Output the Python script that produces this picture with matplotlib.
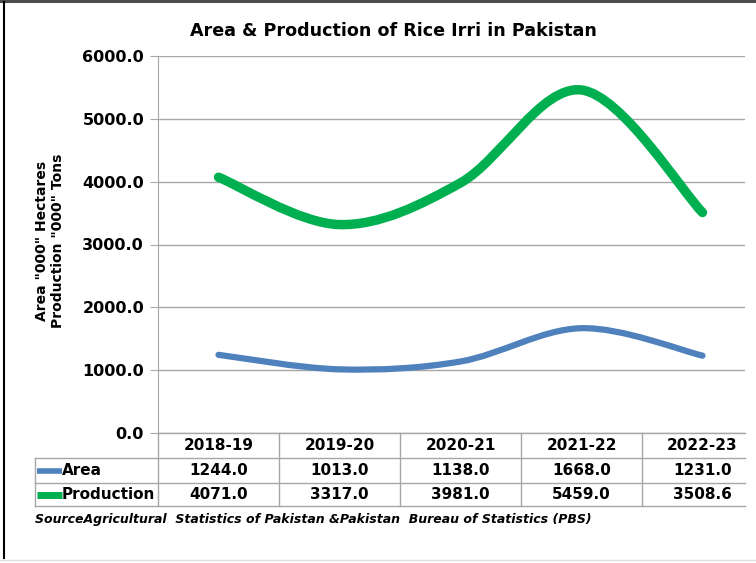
import numpy as np
import matplotlib
matplotlib.use('Agg')
import matplotlib.pyplot as plt
from matplotlib.path import Path
from matplotlib.patches import PathPatch

years = ['2018-19', '2019-20', '2020-21', '2021-22', '2022-23']
area = [1244.0, 1013.0, 1138.0, 1668.0, 1231.0]
production = [4071.0, 3317.0, 3981.0, 5459.0, 3508.6]
area_label = 'Area'
production_label = 'Production'
title = 'Area & Production of Rice Irri in Pakistan'
ylabel = 'Area "000" Hectares\nProduction "000" Tons'
source = 'SourceAgricultural  Statistics of Pakistan &Pakistan  Bureau of Statistics (PBS)'

blue = '#4F81BD'
green = '#00B050'
grid_grey = '#A6A6A6'

W, H = 756, 563
fig = plt.figure(figsize=(W / 100, H / 100), dpi=100)
plt.rcParams['font.family'] = ['DejaVu Sans']


def px(x, y):
    # pixel position (top-left origin) -> figure fraction
    return x / W, 1 - y / H


# plot area in pixels
left, right, top, bottom = 158, 745, 56, 433
ax = fig.add_axes([left / W, 1 - bottom / H, (right - left) / W, (bottom - top) / H])
col_w = 121.0
ax.set_xlim(-0.5, -0.5 + (right - left) / col_w)
ax.set_ylim(0, 6000)
ax.set_yticks(np.arange(0, 6001, 1000))
ax.set_yticklabels([f'{v:.1f}' for v in np.arange(0, 6001, 1000)],
                   fontsize=11.5, fontweight='bold')
ax.set_xticks([])
ax.tick_params(axis='y', length=6, color=grid_grey, pad=4)
for s in ['top', 'right', 'bottom']:
    ax.spines[s].set_visible(False)
ax.spines['left'].set_color(grid_grey)
ax.yaxis.grid(True, color=grid_grey, lw=1)
ax.set_axisbelow(True)


def smooth_path(xs, ys):
    # Excel-style smoothed line: cubic Bezier segments with Catmull-Rom control points
    pts = np.column_stack([xs, ys]).astype(float)
    ext = np.vstack([pts[0], pts, pts[-1]])
    verts = [pts[0]]
    codes = [Path.MOVETO]
    for i in range(len(pts) - 1):
        p0, p1, p2, p3 = ext[i], ext[i + 1], ext[i + 2], ext[i + 3]
        verts += [p1 + (p2 - p0) / 6, p2 - (p3 - p1) / 6, p2]
        codes += [Path.CURVE4] * 3
    return Path(verts, codes)


x = np.arange(len(years))
ax.add_patch(PathPatch(smooth_path(x, production), fill=False, edgecolor=green,
                       lw=6.8, capstyle='round', joinstyle='round'))
ax.add_patch(PathPatch(smooth_path(x, area), fill=False, edgecolor=blue,
                       lw=4.5, capstyle='round', joinstyle='round'))

# data table under the plot
tr = ax.get_xaxis_transform()
plot_h = bottom - top


def yf(py):
    return (bottom - py) / plot_h


rows = [433, 458, 483, 506]
tbl_left = -0.5 + (35 - left) / col_w
x_right = ax.get_xlim()[1]
line_kw = dict(color=grid_grey, lw=1, transform=tr, clip_on=False)
ax.plot([-0.5, x_right], [0, 0], **line_kw)
for ry in rows[1:]:
    ax.plot([tbl_left, x_right], [yf(ry), yf(ry)], **line_kw)
ax.plot([-0.5, -0.5], [yf(rows[0]), yf(rows[-1])], **line_kw)
for sx in x[:-1] + 0.5:
    ax.plot([sx, sx], [yf(rows[0]), yf(rows[-1])], **line_kw)
ax.plot([tbl_left, tbl_left], [yf(rows[1]), yf(rows[-1])], **line_kw)

cell_kw = dict(transform=tr, ha='center', va='center', fontsize=11,
               fontweight='bold', clip_on=False)
for i, yr in enumerate(years):
    ax.text(i, yf((rows[0] + rows[1]) / 2), yr, **cell_kw)
    ax.text(i, yf((rows[1] + rows[2]) / 2), f'{area[i]:.1f}', **cell_kw)
    ax.text(i, yf((rows[2] + rows[3]) / 2), f'{production[i]:.1f}', **cell_kw)

# legend keys inside the row labels
key_x0 = -0.5 + (37 - left) / col_w
key_x1 = -0.5 + (62 - left) / col_w
for (r0, r1), name, c, lw in [((rows[1], rows[2]), area_label, blue, 4),
                               ((rows[2], rows[3]), production_label, green, 5)]:
    yc = yf((r0 + r1) / 2)
    ax.plot([key_x0, key_x1], [yc, yc], color=c, lw=lw, transform=tr,
            clip_on=False, solid_capstyle='butt')
    ax.text(key_x1, yc, name, transform=tr, ha='left', va='center',
            fontsize=11, fontweight='bold', clip_on=False)

fig.text(*px(393, 31), title, ha='center', va='center', fontsize=12.6,
         fontweight='bold')
fig.text(*px(50, 241), ylabel, ha='center', va='center', rotation=90,
         fontsize=10, fontweight='bold', linespacing=1.25)
fig.text(*px(35, 520), source, ha='left', va='center', fontsize=9,
         fontweight='bold', style='italic')

# frame edges of the chart
fig.add_artist(plt.Line2D([0, 1], [1 - 1 / H, 1 - 1 / H], color='#4D4D4D', lw=2.2))
fig.add_artist(plt.Line2D([3.5 / W, 3.5 / W], [1 - 2 / H, 1 - 558 / H], color='black', lw=1.5))
fig.add_artist(plt.Line2D([0, 1], [1 - 560 / H, 1 - 560 / H], color='#E0E0E0', lw=1))

fig.savefig('out.png', dpi=100)
